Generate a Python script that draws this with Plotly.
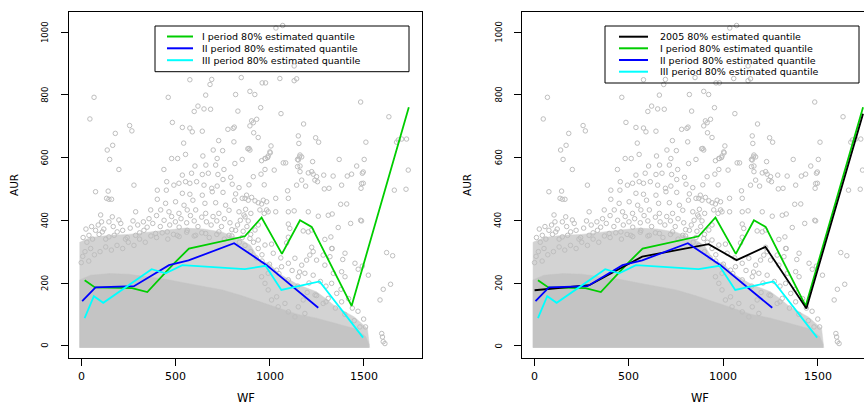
import plotly.graph_objects as go

W, H = 864, 407

# ---------------- data ----------------
x_ticks = [0, 500, 1000, 1500]
x_tick_text = ['0', '500', '1000', '1500']
y_ticks = [0, 200, 400, 600, 800, 1000]
y_tick_text = ['0', '200', '400', '600', '800', '1000']

# outline of the very dense part of the point cloud (WF, AUR)
dense_wf = [-8, -8, 50, 150, 250, 350, 450, 550, 650, 750, 850, 950, 1050, 1150, 1250, 1350, 1450, 1510, 1528, 1528]
dense_aur = [-6, 210, 225, 230, 228, 220, 212, 200, 190, 178, 160, 140, 118, 100, 88, 72, 55, 30, 5, -6]

# outline of the medium-density part of the point cloud
medium_wf = [-8, -8, 50, 150, 250, 350, 450, 550, 650, 750, 850, 900, 950, 1000, 1050, 1150, 1250, 1300, 1350, 1450, 1520, 1532, 1532]
medium_aur = [-6, 330, 345, 352, 355, 362, 370, 375, 372, 362, 338, 320, 270, 262, 230, 195, 172, 150, 125, 92, 55, 5, -6]

# individual points, upper sparse region
pts_top = [
    (1034, 1013), (1070, 1021), (1131, 892), (577, 848), (693, 849), (684, 833), (850, 855), (1055, 852),
    (1131, 845), (1144, 851), (961, 838), (979, 838), (661, 799), (820, 801), (896, 811), (922, 801),
    (462, 792), (68, 792), (1484, 777), (620, 764), (652, 755), (687, 754), (600, 747), (832, 748),
    (953, 759), (1061, 740), (1634, 730), (46, 723), (257, 702), (269, 685), (484, 712), (537, 696),
    (577, 694), (590, 682), (643, 684), (779, 690), (807, 693), (813, 697), (905, 717), (932, 722),
    (896, 701), (914, 711), (1181, 707), (916, 679), (940, 664), (181, 677), (167, 639), (138, 624),
    (151, 594), (544, 646), (730, 654), (811, 650), (701, 624), (751, 622), (554, 610), (646, 605),
    (722, 597), (480, 597), (512, 597), (885, 628), (855, 594), (1153, 669), (1156, 645), (1245, 663),
    (1261, 649), (1512, 649), (1675, 649), (1702, 659), (1728, 659), (1684, 656), (891, 629), (896, 624),
    (1008, 637), (1004, 615), (976, 597), (990, 600), (1149, 594), (1159, 602), (1370, 594), (1503, 594),
    (1737, 560), (1663, 496), (1725, 499), (1498, 554), (1489, 517), (1498, 518), (1486, 502), (1484, 400),
    (1378, 451), (1463, 573), (1413, 541), (993, 605), (979, 597), (1002, 618), (958, 590), (1162, 608),
    (1171, 602), (1153, 592), (1162, 573), (1149, 571), (1073, 583), (1086, 583), (1229, 587),
]

# individual points, middle region
pts_mid = [
    (200, 562), (439, 562), (604, 573), (662, 576), (714, 576), (816, 581), (537, 544), (586, 550),
    (643, 546), (675, 550), (726, 546), (758, 562), (753, 530), (794, 537), (280, 512), (76, 491),
    (143, 493), (147, 467), (161, 467), (135, 470), (404, 496), (452, 496), (454, 523), (492, 512),
    (519, 518), (554, 523), (577, 518), (613, 523), (652, 512), (693, 502), (722, 509), (802, 515),
    (838, 504), (537, 486), (577, 483), (643, 480), (696, 491), (753, 489), (820, 484), (855, 470),
    (404, 467), (448, 454), (501, 459), (546, 448), (593, 464), (657, 454), (714, 456), (767, 448),
    (815, 464), (873, 435), (289, 427), (369, 433), (422, 433), (466, 427), (519, 422), (563, 433),
    (608, 433), (661, 422), (731, 422), (785, 432), (838, 427), (864, 417), (103, 417), (147, 395),
    (200, 401), (108, 395), (165, 411), (41, 352), (76, 368), (112, 363), (147, 347), (191, 363),
    (244, 345), (289, 352), (333, 368), (395, 358), (457, 363), (510, 352), (563, 368), (608, 352),
    (661, 358), (731, 363), (785, 352), (820, 368), (855, 345), (955, 547), (914, 539), (976, 562),
    (1025, 560), (1162, 555), (1206, 551), (1224, 555), (1232, 547), (1250, 539), (1241, 528), (1255, 523),
    (1288, 544), (1338, 541), (1436, 547), (1493, 550), (891, 513), (972, 513), (1096, 494), (1144, 512),
    (1171, 528), (1192, 509), (1291, 500), (1316, 502), (1383, 512),
]

# individual points along the upper edge of the dense cloud
pts_edge = [
    (10, 345), (25, 372), (30, 330), (55, 380), (60, 340), (90, 385), (95, 355), (120, 372), (130, 340),
    (170, 380), (175, 352), (210, 390), (220, 368), (235, 340), (260, 375), (275, 398), (300, 385),
    (310, 360), (330, 395), (350, 378), (360, 405), (380, 390), (400, 415), (420, 380), (440, 400),
    (470, 385), (480, 412), (500, 395), (520, 378), (530, 405), (560, 392), (580, 415), (600, 398),
    (620, 380), (640, 410), (665, 395), (690, 385), (700, 412), (720, 398), (745, 380), (760, 405),
    (790, 392), (800, 370), (830, 385), (845, 400), (860, 365), (880, 380), (900, 355), (915, 330),
    (940, 310), (960, 290), (20, 300), (50, 310), (0, 265), (8, 285), (40, 270), (70, 290), (100, 300),
    (130, 315), (160, 305), (190, 320), (220, 310), (250, 330), (280, 320), (310, 340), (340, 330),
    (370, 350), (400, 345), (430, 360), (460, 340), (490, 355), (520, 348), (560, 362), (600, 350),
    (640, 360), (680, 345), (720, 355), (760, 340), (800, 350), (840, 330), (870, 320), (900, 300),
    (930, 280), (960, 270), (1000, 260), (1050, 230), (1100, 210), (1150, 190), (1200, 170), (1250, 160),
    (1300, 140), (1350, 120), (1400, 100), (1450, 80), (1480, 60),
    (1420, 150), (1440, 120), (1470, 110), (1500, 85), (1510, 60), (1380, 180), (1300, 190), (1270, 205),
    (1210, 200), (1160, 235), (1120, 240), (1060, 280), (1020, 295),
]

# individual points, right part of the cloud
pts_right = [
    (878, 480), (870, 470), (887, 464), (905, 473), (923, 462), (940, 456), (958, 452), (967, 464),
    (985, 459), (993, 427), (1033, 427), (1033, 470), (1100, 470), (1100, 427), (1131, 430), (1206, 427),
    (1259, 413), (1312, 416), (1333, 420), (1410, 452), (1365, 377), (1431, 390), (1489, 398), (1100, 388),
    (1108, 374), (1179, 366), (1206, 363), (1224, 369), (1294, 339), (1326, 347), (1333, 310), (1224, 314),
    (1100, 346), (1091, 328), (1011, 324), (976, 321), (940, 337), (896, 342), (923, 369), (940, 385),
    (887, 398), (870, 411), (901, 422), (949, 433), (972, 422), (985, 433), (1622, 297), (1654, 287),
    (1643, 196), (1604, 180), (1587, 146), (1525, 225), (1454, 263), (1471, 244), (1493, 254), (1401, 295),
    (1389, 275), (1330, 310), (1321, 284), (1285, 289), (1232, 300), (1214, 289), (1197, 273), (1171, 257),
    (1250, 273), (1294, 257), (1339, 231), (1383, 236), (1401, 220), (1330, 199), (1357, 167), (1383, 140),
    (1312, 151), (1285, 135), (1242, 162), (1179, 146), (1153, 124), (1188, 103), (1135, 92), (1100, 108),
    (1082, 135), (1046, 124), (1038, 156), (1011, 146), (993, 178), (976, 199), (958, 220), (993, 231),
    (1038, 241), (1064, 252), (1100, 263), (1135, 279), (1153, 220), (1188, 231), (1232, 225),
    (1596, 39), (1604, 13), (1613, 7), (1600, 28),
]

# quantile lines
black_wf = [0, 80, 290, 480, 570, 922, 1070, 1223, 1440, 1740]
black_aur = [177, 182, 193, 255, 284, 324, 273, 315, 119, 740]
green_wf = [18, 73, 270, 351, 484, 572, 869, 958, 1066, 1162, 1224, 1436, 1740]
green_aur = [209, 186, 184, 171, 257, 310, 349, 409, 293, 400, 379, 127, 760]
blue_wf = [5, 76, 280, 466, 570, 812, 985, 1259]
blue_aur = [142, 186, 190, 257, 272, 327, 257, 121]
cyan_wf = [18, 67, 117, 374, 448, 537, 869, 979, 1063, 1266, 1497]
cyan_aur = [88, 158, 137, 244, 231, 257, 244, 255, 178, 205, 26]

names = {
    'black': '2005 80% estimated quantile',
    'green': 'I period 80% estimated quantile',
    'blue': 'II period 80% estimated quantile',
    'cyan': 'III period 80% estimated quantile',
}
colors = {'black': '#000000', 'green': '#00CD00', 'blue': '#0000FF', 'cyan': '#00FFFF'}

# ---------------- figure ----------------
all_pts = pts_top + pts_mid + pts_edge + pts_right
pts_wf = [p[0] for p in all_pts]
pts_aur = [p[1] for p in all_pts]


def px(x):
    return x / W


def py(y):
    return 1 - y / H


fig = go.Figure()

panels = [('x', 'y', ['green', 'blue', 'cyan']), ('x2', 'y2', ['green', 'black', 'blue', 'cyan'])]
series = {
    'black': (black_wf, black_aur), 'green': (green_wf, green_aur),
    'blue': (blue_wf, blue_aur), 'cyan': (cyan_wf, cyan_aur),
}

for xa, ya, keys in panels:
    fig.add_trace(go.Scatter(x=medium_wf, y=medium_aur, mode='lines', fill='toself',
                             fillcolor='#d3d3d3', line=dict(color='#d3d3d3', width=0.5),
                             xaxis=xa, yaxis=ya, showlegend=False, hoverinfo='skip'))
    fig.add_trace(go.Scatter(x=dense_wf, y=dense_aur, mode='lines', fill='toself',
                             fillcolor='#c4c4c4', line=dict(color='#c4c4c4', width=0.5),
                             xaxis=xa, yaxis=ya, showlegend=False, hoverinfo='skip'))
    fig.add_trace(go.Scatter(x=pts_wf, y=pts_aur, mode='markers',
                             marker=dict(symbol='circle-open', size=4.5, color='#bebebe',
                                         line=dict(width=1, color='#bebebe')),
                             xaxis=xa, yaxis=ya, showlegend=False, hoverinfo='skip'))
    for k in keys:
        sx, sy = series[k]
        fig.add_trace(go.Scatter(x=sx, y=sy, mode='lines', name=names[k],
                                 line=dict(color=colors[k], width=1.8),
                                 xaxis=xa, yaxis=ya, showlegend=False))

y_dom = [py(358.3), py(12)]
common = dict(showgrid=False, zeroline=False, showline=True, linecolor='black', linewidth=1,
              ticks='outside', ticklen=7, tickcolor='black', tickwidth=1, showticklabels=False)

fig.update_layout(
    width=W, height=H, margin=dict(l=0, r=0, t=0, b=0),
    paper_bgcolor='white', plot_bgcolor='white',
    xaxis=dict(domain=[px(69), px(422)], range=[-65, 1810], tickvals=x_ticks, mirror=True,
               anchor='y', **common),
    yaxis=dict(domain=y_dom, range=[-40, 1064], tickvals=y_ticks, mirror=True, anchor='x', **common),
    xaxis2=dict(domain=[px(522.3), 1.0], range=[-65, 1745], tickvals=x_ticks, mirror=True,
                anchor='y2', **common),
    yaxis2=dict(domain=y_dom, range=[-40, 1064], tickvals=y_ticks, mirror=False, anchor='x2', **common),
)

ann = []
shapes = []
tick_font = dict(family='DejaVu Sans', size=11, color='black')
ytick_font = dict(family='DejaVu Sans', size=8.5, color='black')

# tick labels placed through the axes' own scales
for xref, ylab_x in (('x', 45), ('x2', 498.7)):
    yref = 'y' if xref == 'x' else 'y2'
    for v, t in zip(x_ticks, x_tick_text):
        ann.append(dict(text=t, x=v, xref=xref, y=py(376.7), yref='paper', showarrow=False,
                        xanchor='center', yanchor='middle', font=tick_font))
    for v, t in zip(y_ticks, y_tick_text):
        ann.append(dict(text=t, x=px(ylab_x), xref='paper', y=v, yref=yref, showarrow=False,
                        xanchor='center', yanchor='middle', textangle=-90, font=ytick_font))

title_font = dict(family='DejaVu Sans', size=11.5, color='black')
for cx in (245.5, 700):
    ann.append(dict(text='WF', x=px(cx), y=py(398), xref='paper', yref='paper', showarrow=False,
                    xanchor='center', yanchor='middle', font=title_font))
for cx in (14, 467):
    ann.append(dict(text='AUR', x=px(cx), y=py(185), xref='paper', yref='paper', showarrow=False,
                    textangle=-90, xanchor='center', yanchor='middle',
                    font=dict(family='DejaVu Sans', size=10.5, color='black')))

legend_font = dict(family='DejaVu Sans', size=9.5, color='black')
legends = [
    dict(box=(155, 26, 409, 71.7), line=(167, 193), text_x=201, rows=[36.5, 48.3, 60.2],
         keys=['green', 'blue', 'cyan']),
    dict(box=(605, 26, 859, 83), line=(619, 648), text_x=659, rows=[36.7, 48.3, 60, 71.7],
         keys=['black', 'green', 'blue', 'cyan']),
]
for lg in legends:
    x0, y0, x1, y1 = lg['box']
    shapes.append(dict(type='rect', xref='paper', yref='paper', x0=px(x0), x1=px(x1),
                       y0=py(y1), y1=py(y0), line=dict(color='black', width=1),
                       fillcolor='rgba(0,0,0,0)'))
    for ry, k in zip(lg['rows'], lg['keys']):
        shapes.append(dict(type='line', xref='paper', yref='paper', x0=px(lg['line'][0]),
                           x1=px(lg['line'][1]), y0=py(ry), y1=py(ry),
                           line=dict(color=colors[k], width=2)))
        ann.append(dict(text=names[k], x=px(lg['text_x']), y=py(ry), xref='paper', yref='paper',
                        showarrow=False, xanchor='left', yanchor='middle', borderpad=0,
                        font=legend_font))

fig.update_layout(annotations=ann, shapes=shapes)
fig.write_html('out.html')
